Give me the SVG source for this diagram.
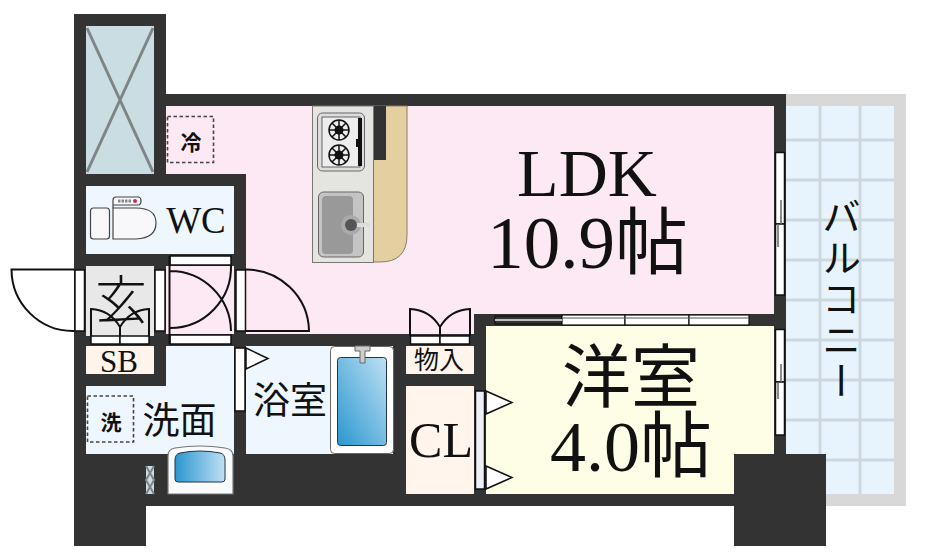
<svg xmlns="http://www.w3.org/2000/svg" width="930" height="560" viewBox="0 0 930 560">
<style>
.t{font-family:"Liberation Serif","Noto Sans CJK JP",serif;fill:#111}
.s{font-family:"Noto Sans CJK JP",sans-serif;fill:#111}
.d{fill:#fff;stroke:#111;stroke-width:1.5}
.a{fill:none;stroke:#111;stroke-width:2}
.g{stroke:#cfd7de;stroke-width:3}
.dash{fill:none;stroke:#444;stroke-width:1.6;stroke-dasharray:3.5 2.5}
</style>
<defs>
<linearGradient id="v" x1="1" y1="0" x2="0" y2="1"><stop offset="0" stop-color="#bfe0f4"/><stop offset="1" stop-color="#2a97cf"/></linearGradient>
<linearGradient id="h" x1="0" y1="0" x2="1" y2="0"><stop offset="0" stop-color="#2a97cf"/><stop offset="1" stop-color="#bfe0f4"/></linearGradient>
</defs>
<rect width="930" height="560" fill="#fff"/>
<g id="balcony">
<rect x="786" y="94" width="120" height="412" fill="#d8d8d8"/>
<rect x="786" y="106" width="108" height="388" fill="#e8f4fd"/>
<path class="g" d="M820 106V494M860 106V494M786 140H894M786 180H894M786 220H894M786 260H894M786 300H894M786 340H894M786 380H894M786 420H894M786 460H894"/>
<text class="t" font-size="39" x="838" y="197" style="writing-mode:vertical-rl" letter-spacing="2" text-anchor="start">バルコニー</text>
</g>
<path id="walls" fill="#333" d="M74 14H166V94H786V454H826V546H734V506H146V546H74Z"/>
<g id="shaft">
<rect x="86" y="26" width="68" height="148" fill="#c9dde3"/>
<path d="M87 28L153 172M153 28L87 172" stroke="#7f8585" stroke-width="3"/>
</g>
<g id="ldk">
<path fill="#fde9f3" d="M166 106H774V314H474V334H246V174H166Z"/>
<rect x="166" y="266" width="68" height="68" fill="#fde9f3"/>
<rect class="dash" x="167.500" y="116.500" width="46" height="46"/>
<text class="s" font-size="21" x="191" y="150" text-anchor="middle" font-weight="700">冷</text>
<path d="M373 106H407V235Q407 262 380 262H373Z" fill="#e3cfa0" stroke="#8a7d62"/>
<rect x="312.500" y="106" width="61" height="156.500" fill="#e4e5e1" stroke="#777"/>
<rect x="374" y="106" width="12" height="54" fill="#333"/>
<rect x="317.500" y="113" width="47" height="58" rx="5" fill="#ddd" stroke="#666"/>
<rect x="322" y="117" width="38" height="50" fill="#eee" stroke="#444" stroke-width=".8"/>
<rect x="358" y="118" width="4" height="48" fill="#111"/><rect x="356" y="139" width="3" height="8" fill="#111"/>
<g fill="none" stroke="#111" stroke-width="1.5">
<circle cx="339" cy="130" r="10"/><circle cx="339" cy="155" r="10"/>
<path d="M329 130H349M339 120V140M332 123L346 137M346 123L332 137M329 155H349M339 145V165M332 148L346 162M346 148L332 162"/>
</g>
<circle cx="339" cy="130" r="4.500" fill="#111"/><circle cx="339" cy="155" r="4.500" fill="#111"/>
<rect x="318.500" y="192" width="45" height="65" rx="5" fill="#c4c4c4" stroke="#666"/>
<rect x="322" y="196" width="31" height="58" rx="4" fill="#999"/>
<circle cx="351" cy="225" r="10" fill="#aaa"/><rect x="351" y="223" width="19" height="4" fill="#ddd"/>
<circle cx="351" cy="225" r="6" fill="#555"/>
<text class="t" font-size="68" x="587" y="196" text-anchor="middle">LDK</text>
<text class="t" font-size="73" x="587.500" y="268" text-anchor="middle">10.9帖</text>
</g>
<g id="wc">
<rect x="86" y="186" width="148" height="68" fill="#eff7fe"/>
<rect x="90.500" y="208" width="19" height="31" rx="3" fill="#f8f8fb" stroke="#444" stroke-width="1.200"/>
<path d="M113 208V200Q113 197 116 197H138Q141 197 141 201T138 205H113" fill="#f8f8fb" stroke="#444" stroke-width="1.200"/>
<path d="M113 208H136Q156 208 156 223T136 239H113Z" fill="#f8f8fb" stroke="#444" stroke-width="1.200"/>
<path d="M118 201H132" stroke="#888" stroke-width="3" stroke-dasharray="2.500 1"/><circle cx="135" cy="201" r="2" fill="#d6245f"/>
<text class="t" font-size="37" x="196" y="233" text-anchor="middle">WC</text>
</g>
<g id="entry">
<rect x="86" y="266" width="68" height="70" fill="#e8e8e8"/>
<text class="s" font-size="52" x="121" y="319" text-anchor="middle" font-weight="300">玄</text>
<rect class="d" x="75" y="270" width="9.500" height="61"/>
<path class="a" d="M74 269.500H11.500A62 62 0 0 0 74 331"/>
<rect class="d" x="155" y="270" width="10" height="61"/>
<path class="a" d="M91 336V309Q110 310 120 327Q130 310 149 309V336"/>
<path class="a" d="M120 327V344"/>
<rect class="d" x="91" y="336" width="29" height="8"/><rect class="d" x="120" y="336" width="29" height="8"/>
</g>
<g id="hall-doors">
<rect class="d" x="170" y="256" width="61" height="9"/>
<rect class="d" x="170" y="335" width="61" height="9"/>
<path class="a" d="M169.500 256V344M170 271A61 61 0 0 1 231 331M231 265A61 61 0 0 1 170 328"/>
<rect class="d" x="236" y="270" width="9.500" height="61"/>
<path class="a" d="M245.500 269.500A63 62 0 0 1 309 331H245.500"/>
</g>
<g id="sb">
<rect x="86" y="346" width="68" height="28" fill="#fff5ec"/>
<text class="t" font-size="31" x="119" y="372" text-anchor="middle">SB</text>
</g>
<g id="wash">
<path fill="#eff7fe" d="M166 346H234V454H86V386H166Z"/>
<rect class="dash" x="87.500" y="396" width="46" height="46"/>
<text class="s" font-size="21" x="111" y="430" text-anchor="middle" font-weight="700">洗</text>
<text class="t" font-size="37" x="179.500" y="434" text-anchor="middle">洗面</text>
<path d="M168 494V456Q168 449 175 448Q200 444 225 448Q233 449 233 456V494Z" fill="#f8fafc" stroke="#777" stroke-width="1.200"/>
<path d="M175 460Q175 454 180 453Q200 449 220 453Q225 454 225 460V479Q225 482 222 482H178Q175 482 175 479Z" fill="url(#h)" stroke="#234" stroke-width="1"/>
<rect x="146" y="466" width="8" height="28" fill="#c9dde3"/>
<path d="M146 466L154 480L146 494M154 466L146 480L154 494" fill="none" stroke="#7f8585" stroke-width="2"/>
</g>
<g id="bath">
<rect x="246" y="346" width="147" height="108" fill="#eff7fe"/>
<rect class="d" x="235" y="348" width="10" height="63"/>
<path class="d" d="M246 348L268 358.500L246 369Z"/>
<text class="t" font-size="37" x="290" y="414" text-anchor="middle">浴室</text>
<rect x="330.500" y="346.500" width="63" height="107" rx="4" fill="#fff" stroke="#666"/>
<rect x="337.500" y="357.500" width="49" height="88" rx="3" fill="url(#v)" stroke="#235"/>
<path d="M355 346H370V351H365V363H360V351H355Z" fill="#ccc" stroke="#666"/>
</g>
<g id="storage">
<rect x="406" y="346" width="68" height="28" fill="#fff5ec"/>
<text class="t" font-size="25" x="439" y="369" text-anchor="middle">物入</text>
<path class="a" d="M410 336V309Q430 310 440 327Q450 310 470 309V336M440 327V344"/>
<rect class="d" x="410.500" y="336" width="29.500" height="8"/><rect class="d" x="440" y="336" width="29.500" height="8"/>
</g>
<g id="cl">
<rect x="406" y="386" width="68" height="108" fill="#fff5ec"/>
<text class="t" font-size="50" x="441" y="457" text-anchor="middle">CL</text>
<rect x="475.500" y="391" width="9" height="98" fill="#eef0f6" stroke="#111" stroke-width="1.500"/>
</g>
<g id="bedroom">
<path fill="#fefee6" d="M486 326H774V454H734V494H486Z"/>
<text class="t" font-size="69" x="631" y="402" text-anchor="middle">洋室</text>
<text class="t" font-size="72" x="631" y="471" text-anchor="middle">4.0帖</text>
<path class="d" d="M486 391L512 402.500L486 414ZM486 466L512 477.500L486 489Z"/>
<g fill="#fff" stroke="#111" stroke-width="1.200">
<rect x="495" y="316" width="67" height="8" fill="#333"/>
<rect x="562" y="315" width="63" height="10"/><rect x="625" y="315" width="64" height="10"/><rect x="689" y="315" width="60" height="10"/>
</g>
<path d="M495 320H562" stroke="#eee" stroke-width="1.500"/>
<path d="M562 318H749" stroke="#555" stroke-width="1"/>
</g>
<g id="windows" fill="#fff" stroke="#111" stroke-width="1.500">
<rect x="775.500" y="152.500" width="9" height="71.500"/><rect x="775.500" y="224" width="9" height="71"/>
<rect x="775.500" y="329.500" width="9" height="52.500"/><rect x="775.500" y="382" width="9" height="53"/>
<path d="M781 200V224M778 224V247M781 364V382M778 382V399" stroke="#666"/>
</g>
</svg>
